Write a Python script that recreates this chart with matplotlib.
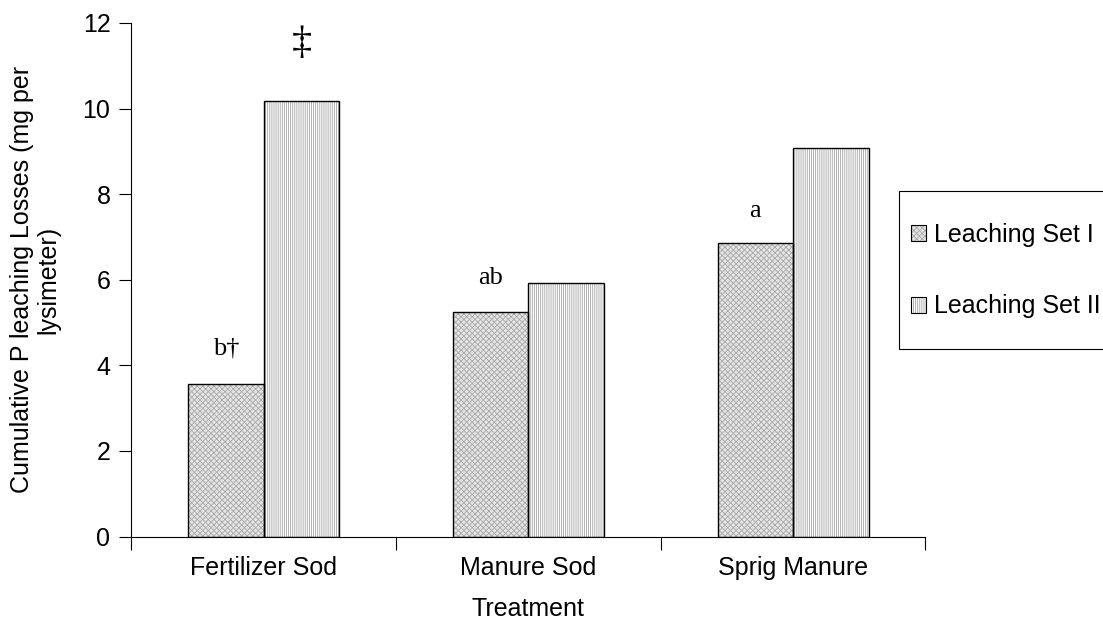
import matplotlib
matplotlib.use("Agg")
import matplotlib.pyplot as plt
from matplotlib.patches import Rectangle, Patch
from matplotlib.legend_handler import HandlerTuple
import numpy as np

categories = ["Fertilizer Sod", "Manure Sod", "Sprig Manure"]
set1 = [3.57, 5.25, 6.85]
set2 = [10.18, 5.92, 9.07]
series_names = ["Leaching Set I", "Leaching Set II"]
ann_set1 = ["b\u2020", "ab", "a"]
ann_set1_y = [4.4, 6.05, 7.6]
ann_set2 = ["\u2021", "", ""]
ann_set2_y = [11.52, None, None]
yticks = [0, 2, 4, 6, 8, 10, 12]

plt.rcParams["font.family"] = ["Liberation Sans", "DejaVu Sans"]
plt.rcParams["hatch.linewidth"] = 0.6

fig = plt.figure(figsize=(11.03, 6.33), dpi=100)
ax = fig.add_axes([0.119, 0.1523, 0.720, 0.8114])

x = np.arange(1, len(categories) + 1)
w = 0.285
# fills (hatch colour follows edgecolor)
ax.bar(x - w / 2, set1, w, facecolor="#e4e4e4", edgecolor="#a9a9a9",
       linewidth=0, hatch="xxxxxx")
ax.bar(x + w / 2, set2, w, facecolor="white", edgecolor="#a4a4a4",
       linewidth=0, hatch="||||||||")
# outlines
ax.bar(x - w / 2, set1, w, facecolor="none", edgecolor="black", linewidth=1.0)
ax.bar(x + w / 2, set2, w, facecolor="none", edgecolor="black", linewidth=1.0)

serif = ["Liberation Serif", "DejaVu Serif"]
for xi, t, yv in zip(x - w / 2, ann_set1, ann_set1_y):
    ax.text(xi, yv, t, ha="center", va="center", fontsize=19, family=serif)
for xi, t, yv in zip(x + w / 2, ann_set2, ann_set2_y):
    if t:
        ax.text(xi, yv, t, ha="center", va="center", fontsize=29, family=serif)

ax.set_xlim(0.5, 3.5)
ax.set_ylim(0, 12)
ax.set_yticks(yticks)
ax.set_xticks([0.5, 1.5, 2.5, 3.5])
ax.set_xticklabels([])
ax.set_xticks(x, minor=True)
ax.set_xticklabels(categories, minor=True)
ax.tick_params(axis="x", which="minor", length=0, pad=14, labelsize=18)
ax.tick_params(axis="x", which="major", length=9, width=0.8, direction="out")
ax.tick_params(axis="y", length=9, width=0.8, direction="out", labelsize=18, pad=6)
for s in ["top", "right"]:
    ax.spines[s].set_visible(False)
for s in ["left", "bottom"]:
    ax.spines[s].set_linewidth(0.8)

ax.set_xlabel("Treatment", fontsize=18, labelpad=12)
ax.set_ylabel("Cumulative P leaching Losses (mg per\nlysimeter)", fontsize=18,
              labelpad=16, linespacing=1.1)

# legend frame (runs off the right edge like the reference)
fig.patches.append(Rectangle((899 / 1103, 1 - 349 / 633), 0.3, (349 - 191) / 633,
                             transform=fig.transFigure, facecolor="white",
                             edgecolor="black", linewidth=0.8, zorder=1))
h1 = (Patch(facecolor="#e4e4e4", edgecolor="#a9a9a9", linewidth=0, hatch="xxxxxx"),
      Patch(facecolor="none", edgecolor="black", linewidth=0.8))
h2 = (Patch(facecolor="white", edgecolor="#a4a4a4", linewidth=0, hatch="||||||||"),
      Patch(facecolor="none", edgecolor="black", linewidth=0.8))
leg = fig.legend(handles=[h1, h2], labels=series_names, loc="upper left",
                 bbox_to_anchor=(911 / 1103, 1 - 223 / 633), fontsize=18,
                 frameon=False, handlelength=0.6, handleheight=0.6,
                 handletextpad=0.3, labelspacing=1.9, borderpad=0,
                 borderaxespad=0,
                 handler_map={tuple: HandlerTuple(ndivide=1, pad=0)})
leg.set_zorder(2)

fig.savefig("out.png", dpi=100)
